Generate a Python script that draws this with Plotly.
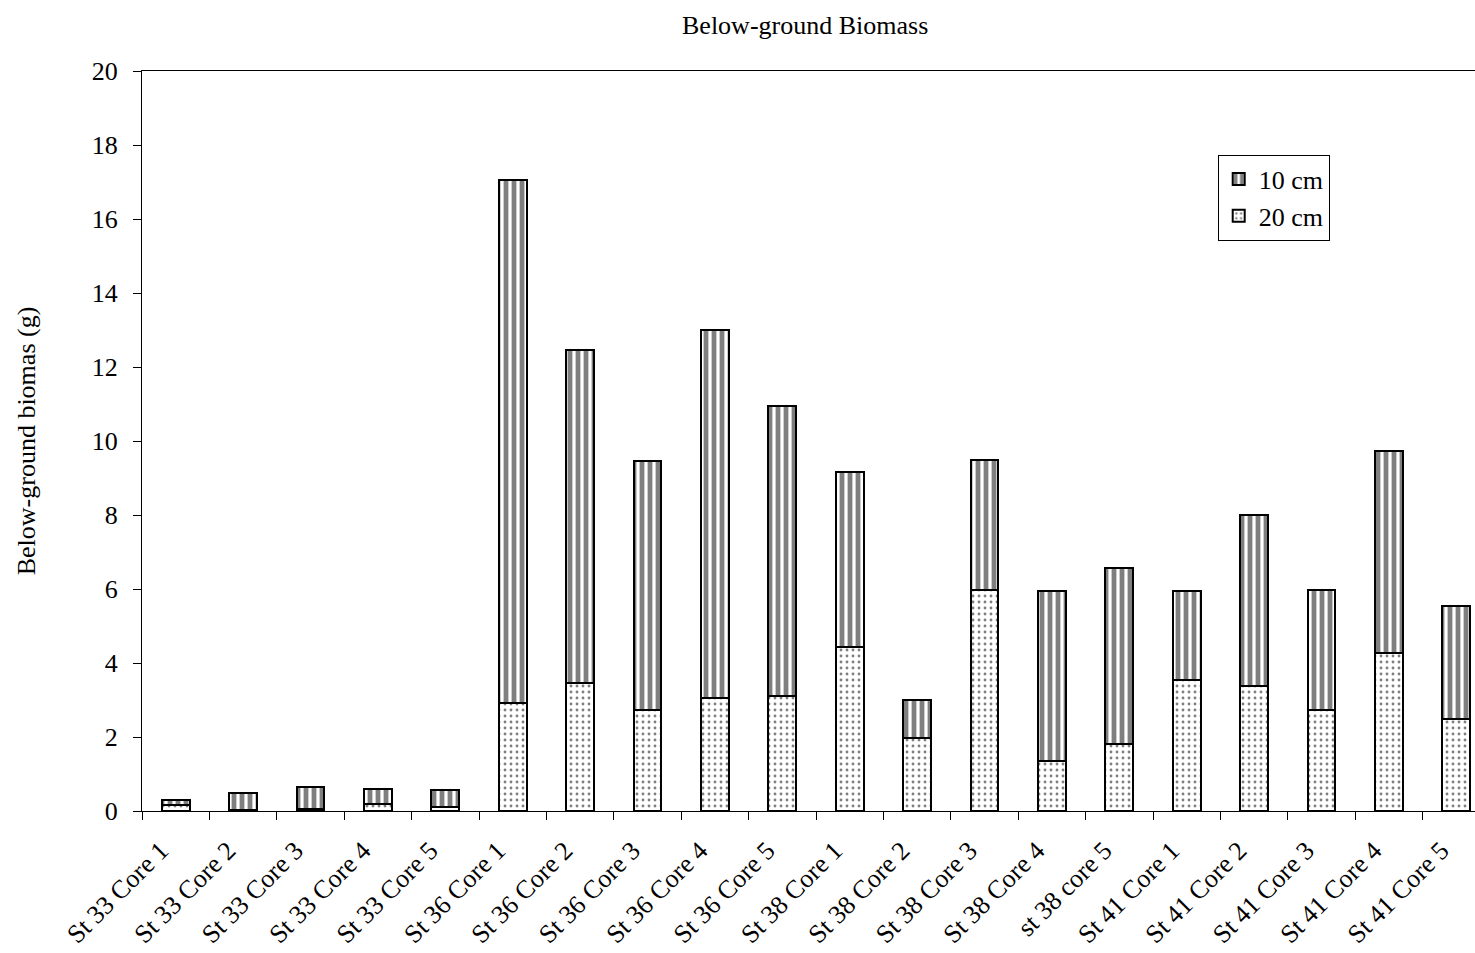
import plotly.graph_objects as go

categories = ["St 33 Core 1", "St 33 Core 2", "St 33 Core 3", "St 33 Core 4", "St 33 Core 5",
              "St 36 Core 1", "St 36 Core 2", "St 36 Core 3", "St 36 Core 4", "St 36 Core 5",
              "St 38 Core 1", "St 38 Core 2", "St 38 Core 3", "St 38 Core 4", "st 38 core 5",
              "St 41 Core 1", "St 41 Core 2", "St 41 Core 3", "St 41 Core 4", "St 41 Core 5"]
totals = [0.31, 0.49, 0.65, 0.60, 0.57,
          17.05, 12.46, 9.46, 13.0, 10.95,
          9.16, 3.0, 9.49, 5.95, 6.57,
          5.95, 8.0, 5.97, 9.73, 5.54]
depth_20cm = [0.15, 0.03, 0.05, 0.19, 0.10,
              2.92, 3.46, 2.73, 3.05, 3.11,
              4.43, 1.97, 5.97, 1.35, 1.81,
              3.54, 3.38, 2.73, 4.27, 2.49]
depth_10cm = [round(t - d, 2) for t, d in zip(totals, depth_20cm)]
y_ticks = list(range(0, 21, 2))

FONT = "Liberation Serif, Times New Roman, serif"

fig = go.Figure()
fig.add_trace(go.Bar(
    x=categories, y=depth_20cm, name="20 cm",
    marker=dict(color="white", line=dict(color="black", width=2),
                pattern=dict(shape=".", fgcolor="black", bgcolor="white", size=6, solidity=0.18)),
))
fig.add_trace(go.Bar(
    x=categories, y=depth_10cm, name="10 cm",
    marker=dict(color="white", line=dict(color="black", width=2),
                pattern=dict(shape="|", fgcolor="black", bgcolor="white", size=8, solidity=0.6)),
))

fig.update_layout(
    barmode="stack",
    bargap=0.585,
    width=1491, height=953,
    margin=dict(l=142, r=1, t=71, b=142, autoexpand=False),
    paper_bgcolor="white", plot_bgcolor="white",
    font=dict(family=FONT, color="black", size=26),
    title=dict(text="Below-ground Biomass", x=0.54, xanchor="center", y=0.974, yanchor="middle",
               font=dict(family=FONT, size=26, color="black")),
    showlegend=True,
    legend=dict(x=0.798, y=0.887, xanchor="left", yanchor="top", traceorder="reversed",
                bordercolor="black", borderwidth=1, bgcolor="white",
                font=dict(family=FONT, size=26), itemwidth=30, tracegroupgap=0),
)
fig.update_xaxes(
    automargin=False,
    showline=True, linecolor="black", linewidth=1, mirror=True,
    ticks="outside", ticklen=8, tickcolor="black", tickson="boundaries",
    tickangle=-45, tickfont=dict(family=FONT, size=26),
    ticklabelstandoff=13, ticklabelshift=-15,
    showgrid=False,
)
fig.update_yaxes(
    automargin=False,
    range=[0, 20], tickvals=y_ticks,
    showline=True, linecolor="black", linewidth=1,
    ticks="outside", ticklen=8, tickcolor="black", ticklabelstandoff=10,
    tickfont=dict(family=FONT, size=26), showgrid=False, zeroline=False,
    title=dict(text="Below-ground biomas (g)", font=dict(family=FONT, size=26), standoff=48),
)

post = ("document.body.style.margin='0';"
        "document.body.style.overflow='hidden';"
        "document.documentElement.style.overflow='hidden';")
fig.write_html("out.html", post_script=post, config={"displayModeBar": False})
